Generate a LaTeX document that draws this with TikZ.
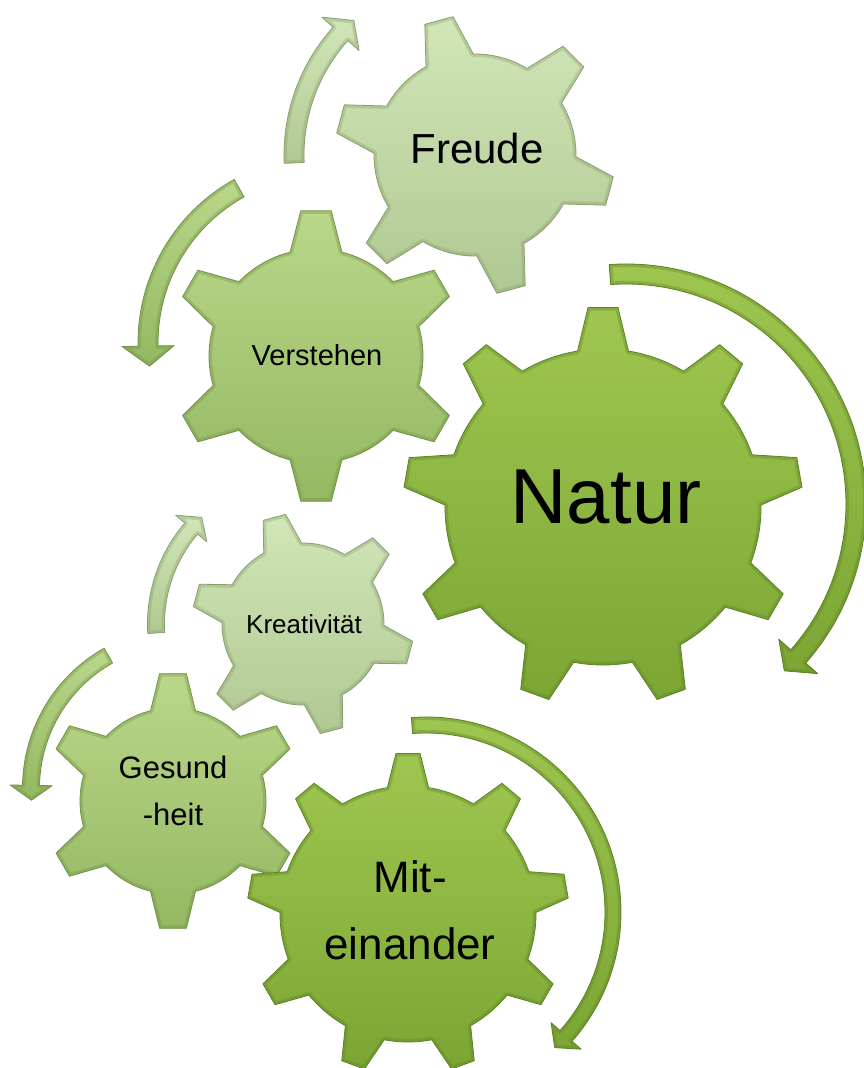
\documentclass[tikz,border=0pt]{standalone}
\usepackage{fontspec}
\setmainfont{Liberation Sans}
\definecolor{dkT}{RGB}{158,198,80}
\definecolor{dkB}{RGB}{124,166,52}
\definecolor{dkE}{RGB}{92,130,36}
\definecolor{mdT}{RGB}{186,215,138}
\definecolor{mdB}{RGB}{148,184,98}
\definecolor{mdE}{RGB}{112,146,70}
\definecolor{ltT}{RGB}{210,230,184}
\definecolor{ltB}{RGB}{176,200,146}
\definecolor{ltE}{RGB}{136,160,110}
% gear outline path: #1 cx, #2 cy, #3 teeth, #4 offset, #5 body r, #6 tip R, #7 base half-angle, #8 tip half-angle, #9 options
\newcommand{\gp}[9]{%
  \pgfmathsetmacro\gstep{360/#3}%
  \pgfmathtruncatemacro\glast{#3-1}%
  \path[shift={(#1pt,-#2pt)}, #9] ({#4-#7}:#5pt)
    \foreach \gi in {0,...,\glast}{
      -- ({#4+\gi*\gstep-#8}:#6pt) -- ({#4+\gi*\gstep+#8}:#6pt) -- ({#4+\gi*\gstep+#7}:#5pt)
      arc[start angle={#4+\gi*\gstep+#7}, end angle={#4+(\gi+1)*\gstep-#7}, radius=#5pt]
    } -- cycle;}
\newcommand{\drawgear}[9]{%
  \begin{scope}
    \gp{#1}{#2}{#3}{#4}{#5}{#6}{#7}{#8}{#9}
    \gp{#1}{#2}{#3}{#4}{#5}{#6}{#7}{#8}{clip}
    \gp{#1}{#2}{#3}{#4}{#5}{#6}{#7}{#8}{#9 rim}
  \end{scope}
  \gp{#1}{#2}{#3}{#4}{#5}{#6}{#7}{#8}{#9 edge}}
% arrow path: #1 cx, #2 cy, #3 R, #4 start angle, #5 head base angle, #6 tip angle, #7 half shaft, #8 half head, #9 options
\newcommand{\ap}[9]{%
  \pgfmathsetmacro\aro{#3+#7}%
  \pgfmathsetmacro\ari{#3-#7}%
  \pgfmathsetmacro\aho{#3+#8}%
  \pgfmathsetmacro\ahi{#3-#8}%
  \path[shift={(#1pt,-#2pt)}, #9] (#4:\aro pt) arc[start angle=#4, end angle=#5, radius=\aro pt]
    -- (#5:\aho pt) -- (#6:#3pt) -- (#5:\ahi pt) -- (#5:\ari pt)
    arc[start angle=#5, end angle=#4, radius=\ari pt] -- cycle;}
\newcommand{\drawarrow}[9]{%
  \begin{scope}
    \ap{#1}{#2}{#3}{#4}{#5}{#6}{#7}{#8}{#9}
    \ap{#1}{#2}{#3}{#4}{#5}{#6}{#7}{#8}{clip}
    \ap{#1}{#2}{#3}{#4}{#5}{#6}{#7}{#8}{#9 rim}
  \end{scope}
  \ap{#1}{#2}{#3}{#4}{#5}{#6}{#7}{#8}{#9 edge}}
\tikzset{
  gdark/.style={top color=dkT, bottom color=dkB},
  gmid/.style={top color=mdT, bottom color=mdB},
  glight/.style={top color=ltT, bottom color=ltB},
  gdark rim/.style={draw=dkE, draw opacity=0.35, line width=6pt, line join=round},
  gmid rim/.style={draw=mdE, draw opacity=0.35, line width=6pt, line join=round},
  glight rim/.style={draw=ltE, draw opacity=0.35, line width=6pt, line join=round},
  gdark edge/.style={draw=dkE, line width=0.8pt, line join=round},
  gmid edge/.style={draw=mdE, line width=0.8pt, line join=round},
  glight edge/.style={draw=ltE, line width=0.8pt, line join=round},
  lbl/.style={inner sep=0pt, align=center, text=black}
}
\begin{document}
\begin{tikzpicture}
\useasboundingbox (0pt,0pt) rectangle (863pt,-1068pt);
\fill[white] (0pt,0pt) rectangle (863pt,-1068pt);
% arrows
\drawarrow{475}{155}{181}{182.5}{138}{132}{10}{25}{glight}
\drawarrow{325}{343}{177}{119}{181}{187.5}{10}{26}{gmid}
\drawarrow{626}{504}{230}{94}{-41.5}{-46.5}{10}{26}{gdark}
\drawarrow{303}{624}{147}{183.5}{139.5}{133.5}{8.5}{20.5}{glight}
\drawarrow{183}{788}{152}{119.4}{179}{184.6}{8.5}{21}{gmid}
\drawarrow{426}{912}{187}{94.3}{-41.5}{-46.5}{8}{20}{gdark}
% gears
\drawgear{475}{155}{6}{105}{101}{140}{14}{6}{glight}
\drawgear{316}{356}{6}{90}{107}{146}{14}{6}{gmid}
\drawgear{603}{507}{9}{90}{158}{200}{9.3}{4.3}{gdark}
\drawgear{303}{624}{6}{105}{81}{111}{14}{6}{glight}
\drawgear{173}{801}{6}{90}{93}{128}{14}{6}{gmid}
\drawgear{408}{914}{9}{90}{128}{161}{9.3}{4.3}{gdark}
% labels
\node[lbl, font=\fontsize{42}{50}\selectfont, anchor=base] (freude) at (477pt,-163pt) {Freude};
\node[lbl, font=\fontsize{29}{35}\selectfont, anchor=base] (verstehen) at (317pt,-365pt) {Verstehen};
\node[lbl, font=\fontsize{78}{94}\selectfont, anchor=base] (natur) at (606pt,-523pt) {Natur};
\node[lbl, font=\fontsize{26}{31}\selectfont, anchor=base] (kreativ) at (304pt,-633pt) {Kreativität};
\node[lbl, font=\fontsize{31}{47}\selectfont] (gesund) at (173pt,-791pt) {Gesund\\-heit};
\node[lbl, font=\fontsize{44}{67}\selectfont] (mit) at (410pt,-910pt) {Mit-\\einander};
\end{tikzpicture}
\end{document}
